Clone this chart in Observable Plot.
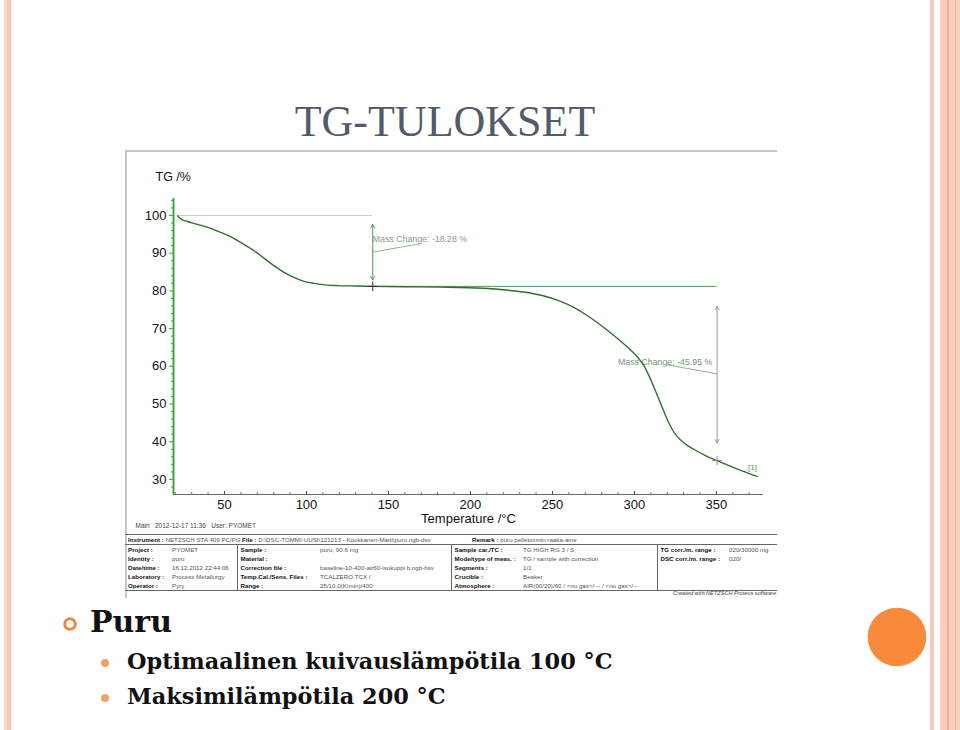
<!DOCTYPE html>
<html>
<head>
<meta charset="utf-8">
<script src="https://cdn.jsdelivr.net/npm/d3@7"></script>
<script src="https://cdn.jsdelivr.net/npm/@observablehq/plot@0.6"></script>
<style>
  html, body { margin: 0; padding: 0; background: #fff; }
  #slide { position: relative; width: 960px; height: 730px; overflow: hidden; background: #fff; }
  .abs { position: absolute; }
  #title { left: 0; width: 890px; top: 100px; text-align: center; font-family: "Liberation Serif", "Times New Roman", serif; font-size: 44px; line-height: 44px; color: #515b6a; }
  #chartbox { left: 125px; top: 150px; }
  #frame { left: 125px; top: 150px; width: 652px; height: 448px; border-top: 2px solid #c6c6c6; border-left: 2px solid #c6c6c6; box-sizing: border-box; pointer-events: none; }
  #info { left: 125px; top: 534px; width: 652px; border-collapse: collapse; font-family: "Liberation Sans", Arial, sans-serif; font-size: 6.2px; line-height: 9px; table-layout: fixed; }
  #info td { padding: 0 0 0 3px; white-space: nowrap; overflow: hidden; vertical-align: middle; }
  #info .lab { font-weight: bold; color: #111; }
  #info .val { color: #555; }
  #info .div { border-left: 1px solid #666; }
  #info tr.first td { border-top: 1px solid #666; border-bottom: 1px solid #666; }
  #info tr.last td { border-bottom: 1px solid #666; }
  #info .grp { display: inline-block; overflow: hidden; white-space: nowrap; vertical-align: top; }
  #created { left: 560px; width: 216px; top: 589px; text-align: right; font-family: "Liberation Sans", Arial, sans-serif; font-style: italic; font-size: 5.6px; line-height: 8px; color: #444; }
  .bul { font-family: "DejaVu Serif", serif; font-weight: bold; color: #111; white-space: nowrap; }
</style>
</head>
<body>
<div id="slide">
  <div class="abs" style="left:4px;top:0;width:3px;height:730px;background:#f7d9cb"></div>
  <div class="abs" style="left:7px;top:0;width:4px;height:730px;background:#f8c6b2"></div>
  <div class="abs" style="left:930px;top:0;width:4px;height:730px;background:#f4cbba"></div>
  <div class="abs" style="left:940px;top:0;width:20px;height:730px;background:#fccfbc"></div>
  <div class="abs" style="left:947px;top:0;width:2px;height:730px;background:#f3ae92"></div>
  <div class="abs" style="left:955px;top:0;width:1px;height:730px;background:#f5b79d"></div>

  <div id="title" class="abs">TG-TULOKSET</div>

  <div id="chartbox" class="abs"></div>
  <div id="frame" class="abs"></div>
  <table id="info" class="abs"></table>
  <div id="created" class="abs">Created with NETZSCH Proteus software</div>

  <svg class="abs" style="left:0;top:0" width="960" height="730">
    <circle cx="70" cy="624" r="5.3" fill="none" stroke="#f0883c" stroke-width="3"/>
    <circle cx="105" cy="663" r="4" fill="#f3a066"/>
    <circle cx="105" cy="698" r="4" fill="#f3a066"/>
    <circle cx="897" cy="637" r="29.3" fill="#f78a3b"/>
  </svg>
  <div class="abs bul" style="left:90px;top:606px;font-size:30px;line-height:32px">Puru</div>
  <div class="abs bul" style="left:127px;top:649px;font-size:22.4px;line-height:24px">Optimaalinen kuivauslämpötila 100 °C</div>
  <div class="abs bul" style="left:127px;top:684px;font-size:22.4px;line-height:24px">Maksimilämpötila 200 °C</div>
</div>

<script>
// ---- TG curve ----
const temperature = [21.5, 23, 27.3, 33, 39.5, 46, 53.7, 60, 67.9, 74, 80.1, 86, 92.3, 98, 104.5, 111, 118.7, 130, 140.4, 160, 181.7, 208, 220, 232.5, 246, 255, 263, 270, 277.3, 285, 291.5, 297.5, 302, 306, 309, 312, 316, 320, 323, 326, 331, 336.2, 343, 350.4, 358, 366, 374.8];
const tgPercent   = [99.9, 99.2, 98.4, 97.7, 96.9, 95.8, 94.4, 92.8, 90.7, 88.7, 86.7, 85.0, 83.6, 82.6, 82.0, 81.6, 81.4, 81.3, 81.2, 81.1, 81.0, 80.7, 80.3, 79.7, 78.5, 77.2, 75.6, 73.8, 71.6, 69.0, 66.7, 64.4, 62.4, 60.0, 57.4, 54.3, 50.1, 45.9, 43.3, 41.4, 39.4, 38.0, 36.4, 35.0, 33.6, 32.2, 30.8];

// ---- axes ----
const xTickValues = [50, 100, 150, 200, 250, 300, 350];
const yTickValues = [30, 40, 50, 60, 70, 80, 90, 100];
const xMinorValues = [20, 30, 40, 60, 70, 80, 90, 110, 120, 130, 140, 160, 170, 180, 190, 210, 220, 230, 240, 260, 270, 280, 290, 310, 320, 330, 340, 360, 370];
const yMinorValues = [28, 32, 34, 36, 38, 42, 44, 46, 48, 52, 54, 56, 58, 62, 64, 66, 68, 72, 74, 76, 78, 82, 84, 86, 88, 92, 94, 96, 98, 102, 104];
const xDomain = [18.9, 378.7];
const yDomain = [26, 104.5];
const xTitle = "Temperature /°C";
const yTitle = "TG /%";
const footerText = "Main   2012-12-17 11:36   User: PYOMET";

// ---- mass change steps ----
const stepLabels = ["Mass Change: -18.28 %", "Mass Change: -45.95 %"];
const stepTemp = [140.4, 350.4];          // temperature of each measuring arrow
const stepStart = [100, 81.2];            // level before the step
const stepEnd = [81.2, 35.0];             // level after the step
const stepBaseFrom = [21.5, 140.4];       // start of the reference level line
const arrowTop = [97.6, 75.9];
const arrowBottom = [82.9, 39.7];
const labelTemp = [140.4, 347.5];
const labelTG = [93.8, 61.1];
const leaderFromTemp = [169.5, 319.9];
const leaderFromTG = [92.5, 60.4];
const leaderToTG = [90.3, 58.0];
const curveMarkerText = "[1]";
const curveMarkerPos = [372, 33.2];

// ---- info table ----
const instrumentRow = [["Instrument :", "NETZSCH STA 409 PC/PG"], ["File :", "D:\\DSC-TOMMI-UUSI\\121213 - Kuokkanen-Matti\\puru.ngb-dsv"], ["Remark :", "puru pelletoinnin raaka-aine"]];
const instrumentGroupWidths = [114, 230, 300];
const col1Labels = ["Project :", "Identity :", "Date/time :", "Laboratory :", "Operator :"];
const col1Values = ["PYOMET", "puru", "16.12.2012 22:44:06", "Process Metallurgy", "Pyry"];
const col2Labels = ["Sample :", "Material :", "Correction file :", "Temp.Cal./Sens. Files :", "Range :"];
const col2Values = ["puru, 90.6 mg", "", "baseline-10-400-air60-isokuppi b.ngb-bsv", "TCALZERO.TCX /", "25/10.0(K/min)/400"];
const col3Labels = ["Sample car./TC :", "Mode/type of meas. :", "Segments :", "Crucible :", "Atmosphere :"];
const col3Values = ["TG HIGH RG 3 / S", "TG / sample with correction", "1/1", "Beaker", "AIR(00/20)/60 / <no gas>/--- / <no gas>/---"];
const col4Labels = ["TG corr./m. range :", "DSC corr./m. range :", "", "", ""];
const col4Values = ["020/30000 mg", "020/", "", "", ""];

// ---- build chart ----
const curve = temperature.map((t, i) => ({t, m: tgPercent[i]}));
const steps = stepLabels.map((label, i) => ({
  label, t: stepTemp[i], start: stepStart[i], end: stepEnd[i], from: stepBaseFrom[i],
  top: arrowTop[i], bottom: arrowBottom[i], mid: (arrowTop[i] + arrowBottom[i]) / 2,
  lt: labelTemp[i], lm: labelTG[i], ft: leaderFromTemp[i], fm: leaderFromTG[i], tm: leaderToTG[i]
}));

const pxX = 652 - 48 - 14;
const perX = (xDomain[1] - xDomain[0]) / pxX;        // data units per pixel
const perY = (yDomain[1] - yDomain[0]) / (385 - 48 - 41);

const green = "#3aa53a";
const curveColor = "#2f6f2f";
const annColor = "#86a886";

const chart = Plot.plot({
  width: 652,
  height: 385,
  marginLeft: 48,
  marginRight: 14,
  marginTop: 48,
  marginBottom: 41,
  x: {domain: xDomain, ticks: xTickValues, tickSize: 0, tickPadding: 5, label: null},
  y: {domain: yDomain, ticks: yTickValues, tickSize: 0, tickPadding: 7, label: null},
  style: {fontFamily: "'Liberation Sans', Arial, sans-serif", fontSize: "13px", color: "#111", background: "transparent", overflow: "visible"},
  marks: [
    // axis lines & ticks
    Plot.ruleY([yDomain[0]], {x1: xDomain[0], x2: xDomain[1], stroke: "#666", strokeWidth: 1.2}),
    Plot.ruleX(xTickValues, {y1: yDomain[0], y2: yDomain[0] + 3 * perY, stroke: "#444"}),
    Plot.ruleX(xMinorValues, {y1: yDomain[0], y2: yDomain[0] + 2 * perY, stroke: "#777"}),
    Plot.ruleY(yTickValues, {x1: xDomain[0] - 4 * perX, x2: xDomain[0], stroke: green}),
    Plot.ruleY(yMinorValues, {x1: xDomain[0] - 2 * perX, x2: xDomain[0], stroke: green}),
    Plot.ruleX([xDomain[0]], {y1: yDomain[0], y2: yDomain[1], stroke: green, strokeWidth: 2}),
    // titles
    Plot.text([yTitle], {frameAnchor: "top-left", dx: -18, dy: -26, textAnchor: "start", fontSize: 12.5}),
    Plot.text([xTitle], {frameAnchor: "bottom", dy: 28, fontSize: 13}),
    Plot.text([footerText], {frameAnchor: "bottom-left", dx: -38, dy: 33, textAnchor: "start", fontSize: 6.5, fill: "#444"}),
    // reference levels
    Plot.ruleY(steps, {y: "start", x1: "from", x2: "t", stroke: (d, i) => i === 0 ? "#c8c8c8" : "#4e9a4e", strokeWidth: 1}),
    // measuring arrows (double-headed)
    Plot.arrow(steps, {x1: "t", x2: "t", y1: "mid", y2: "top", stroke: (d, i) => i === 0 ? "#4f9a4f" : "#9a9a9a", headLength: 6, strokeWidth: 1}),
    Plot.arrow(steps, {x1: "t", x2: "t", y1: "mid", y2: "bottom", stroke: (d, i) => i === 0 ? "#4f9a4f" : "#9a9a9a", headLength: 6, strokeWidth: 1}),
    // leader lines and labels
    Plot.link(steps, {x1: "ft", y1: "fm", x2: "t", y2: "tm", stroke: annColor, strokeWidth: 0.9}),
    Plot.text(steps.filter((d, i) => i === 0), {x: "lt", y: "lm", text: "label", textAnchor: "start", fontSize: 8.8, fill: "#7f9f7f"}),
    Plot.text(steps.filter((d, i) => i === 1), {x: "lt", y: "lm", text: "label", textAnchor: "end", fontSize: 8.8, fill: "#6f986f"}),
    // TG curve
    Plot.line(curve, {x: "t", y: "m", stroke: curveColor, strokeWidth: 1.4, curve: "monotone-x"}),
    // step markers on curve
    Plot.dot(steps, {x: "t", y: "end", symbol: "plus", r: 3.2, stroke: (d, i) => i === 0 ? "#333" : "#888", strokeWidth: 1}),
    Plot.text([curveMarkerText], {x: curveMarkerPos[0], y: curveMarkerPos[1], fontSize: 8, fill: "#5a9a5a"})
  ]
});
document.getElementById("chartbox").appendChild(chart);

// ---- build table ----
const esc = s => s.replace(/&/g, "&amp;").replace(/</g, "&lt;").replace(/>/g, "&gt;");
const table = document.getElementById("info");
const colW = [44, 68, 80, 134, 69, 137, 69, 51];
const cg = document.createElement("colgroup");
colW.forEach(w => { const c = document.createElement("col"); c.style.width = w + "px"; cg.appendChild(c); });
table.appendChild(cg);
const r0 = document.createElement("tr");
r0.className = "first";
const c0 = document.createElement("td");
c0.colSpan = 8;
c0.innerHTML = instrumentRow.map(([l, v], i) => `<span class="grp" style="width:${instrumentGroupWidths[i]}px"><span class="lab">${esc(l)}</span> <span class="val">${esc(v)}</span></span>`).join("");
r0.appendChild(c0);
table.appendChild(r0);
col1Labels.forEach((_, i) => {
  const tr = document.createElement("tr");
  if (i === col1Labels.length - 1) tr.className = "last";
  const cells = [
    [col1Labels[i], "lab", ""], [col1Values[i], "val", ""],
    [col2Labels[i], "lab", "div"], [col2Values[i], "val", ""],
    [col3Labels[i], "lab", "div"], [col3Values[i], "val", ""],
    [col4Labels[i], "lab", "div"], [col4Values[i], "val", ""]
  ];
  cells.forEach(([txt, cls, extra]) => {
    const td = document.createElement("td");
    td.className = cls + (extra ? " " + extra : "");
    td.innerHTML = esc(txt) || "&nbsp;";
    tr.appendChild(td);
  });
  table.appendChild(tr);
});
</script>
</body>
</html>
